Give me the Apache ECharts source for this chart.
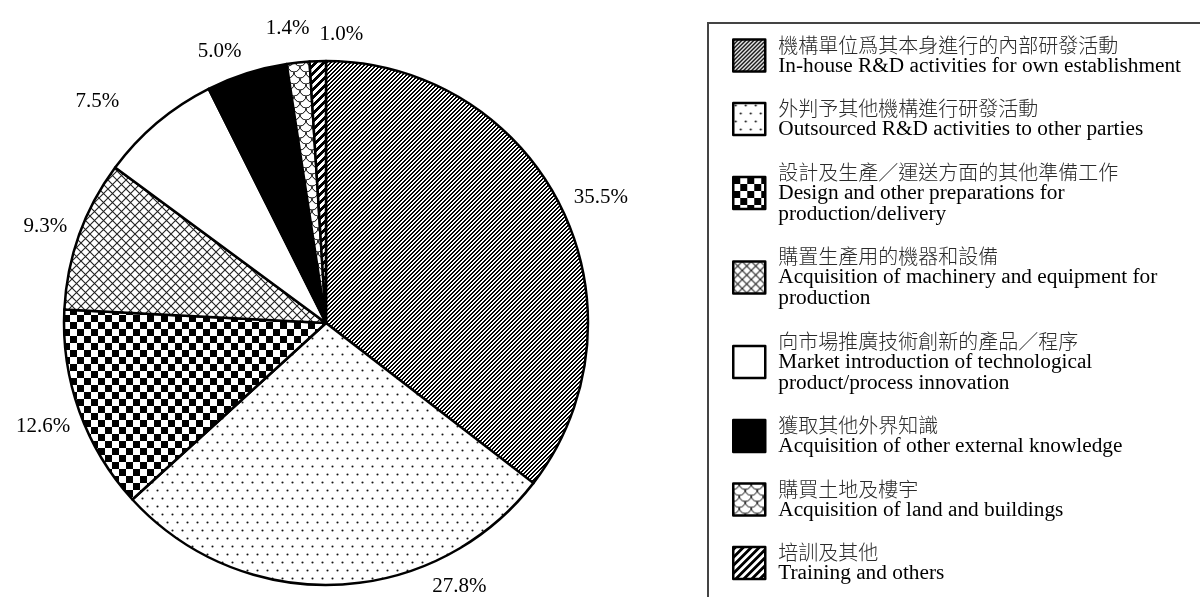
<!DOCTYPE html>
<html>
<head>
<meta charset="utf-8">
<script src="https://cdn.jsdelivr.net/npm/echarts@6/dist/echarts.min.js"></script>
<style>
html,body{margin:0;padding:0;background:#fff;}
#chart{width:1200px;height:597px;}
</style>
</head>
<body>
<div id="chart"></div>
<script>
// ---- data ----
const categoriesZh = [
  '機構單位爲其本身進行的內部研發活動',
  '外判予其他機構進行研發活動',
  '設計及生產／運送方面的其他準備工作',
  '購置生產用的機器和設備',
  '向市場推廣技術創新的產品／程序',
  '獲取其他外界知識',
  '購買土地及樓宇',
  '培訓及其他'
];
const categoriesEn = [
  'In-house R&D activities for own establishment',
  'Outsourced R&D activities to other parties',
  'Design and other preparations for\nproduction/delivery',
  'Acquisition of machinery and equipment for\nproduction',
  'Market introduction of technological\nproduct/process innovation',
  'Acquisition of other external knowledge',
  'Acquisition of land and buildings',
  'Training and others'
];
const shares = [35.5, 27.8, 12.6, 9.3, 7.5, 5.0, 1.4, 1.0];

// label nudges (style only): [dx, dy] from the library's outside position
const labelNudge = [[-5, -4], [90, -12], [9, 10], [6, -4], [-24, -10], [4, -8], [18, -20], [51, -13]];

// ---- pattern fills ----
function tile(w, h, draw) {
  const c = document.createElement('canvas');
  c.width = w; c.height = h;
  const g = c.getContext('2d');
  g.fillStyle = '#fff';
  g.fillRect(0, 0, w, h);
  draw(g, w, h);
  return c;
}
function stripes(period, dark) {
  return tile(period, period, function (g, w, h) {
    g.fillStyle = '#000';
    for (let x = 0; x < w; x++) for (let y = 0; y < h; y++) {
      if ((x + y) % period < dark) g.fillRect(x, y, 1, 1);
    }
  });
}
const patterns = [
  stripes(4, 2),
  tile(10, 16, function (g) {
    g.fillStyle = '#111';
    [[2.5, 2.5], [7.5, 10.5]].forEach(function (p) {
      g.beginPath(); g.arc(p[0], p[1], 1.05, 0, Math.PI * 2); g.fill();
    });
  }),
  tile(14, 14, function (g) {
    g.fillStyle = '#000';
    g.fillRect(0, 0, 7, 7); g.fillRect(7, 7, 7, 7);
  }),
  tile(9, 9, function (g) {
    g.strokeStyle = '#222'; g.lineWidth = 1.1;
    g.beginPath();
    g.moveTo(-1, -1); g.lineTo(10, 10);
    g.moveTo(10, -1); g.lineTo(-1, 10);
    g.stroke();
  }),
  null,
  null,
  tile(12, 12, function (g) {
    g.strokeStyle = '#000'; g.lineWidth = 1;
    [[0, 0], [12, 0], [6, 6], [0, 12], [12, 12]].forEach(function (p) {
      g.beginPath(); g.arc(p[0], p[1], 6, 0, Math.PI); g.stroke();
    });
  }),
  stripes(8, 4)
];
const plainColors = [null, null, null, null, '#ffffff', '#000000', null, null];
function fillFor(i) {
  return patterns[i] ? { image: patterns[i], repeat: 'repeat' } : plainColors[i];
}

const pieData = categoriesZh.map(function (name, i) {
  return { name: name, value: shares[i], itemStyle: { color: fillFor(i) } };
});

const chart = echarts.init(document.getElementById('chart'), null, { renderer: 'canvas' });
chart.setOption({
  backgroundColor: '#ffffff',
  animation: false,
  legend: {
    orient: 'vertical',
    left: 708,
    top: 23,
    height: 900,
    padding: [12, 80, 60, 24],
    itemGap: 22,
    itemWidth: 32,
    itemHeight: 32,
    icon: 'rect',
    selectedMode: false,
    borderColor: '#444',
    borderWidth: 2,
    itemStyle: { borderColor: '#000', borderWidth: 2.5 },
    data: categoriesZh,
    formatter: function (name) {
      const i = categoriesZh.indexOf(name);
      const en = categoriesEn[i].split('\n').map(function (s) { return '{en|' + s + '}'; }).join('\n');
      return '{zh|' + name + '}\n' + en;
    },
    textStyle: {
      padding: [0, 0, 0, 8],
      rich: {
        zh: { fontFamily: 'Noto Sans CJK TC', fontSize: 20, lineHeight: 21, color: '#2a2a2a', fontWeight: 300 },
        en: { fontFamily: 'Liberation Serif', fontSize: 21.3, lineHeight: 21, color: '#000' }
      }
    }
  },
  series: [{
    type: 'pie',
    center: [326, 323],
    radius: 262,
    startAngle: 90,
    clockwise: true,
    avoidLabelOverlap: false,
    data: pieData,
    itemStyle: { borderColor: '#000', borderWidth: 2.5 },
    label: {
      show: true,
      position: 'outside',
      formatter: function (p) { return p.value.toFixed(1) + '%'; },
      fontFamily: 'Liberation Serif',
      fontSize: 21,
      color: '#000'
    },
    labelLine: { show: false, length: 14, length2: 0 },
    labelLayout: function (params) {
      const n = labelNudge[params.dataIndex];
      return { dx: n[0], dy: n[1], hideOverlap: false };
    },
    emphasis: { disabled: true }
  }]
});
</script>
</body>
</html>
